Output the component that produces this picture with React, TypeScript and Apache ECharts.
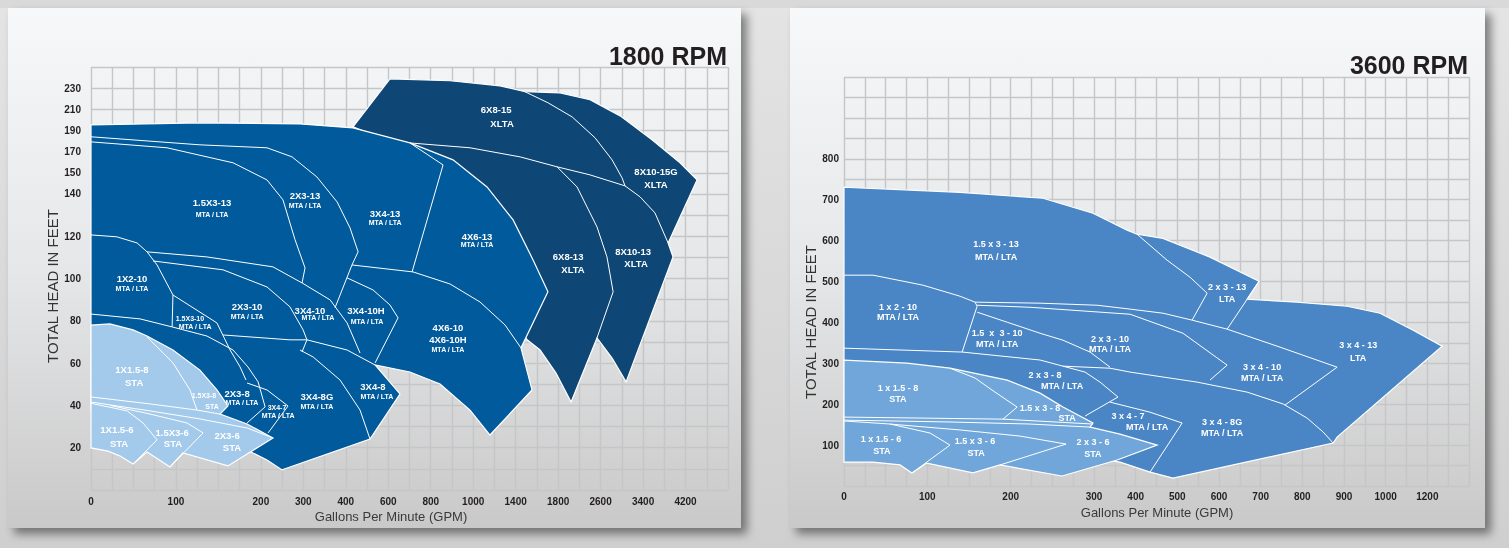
import React, { useEffect, useRef } from "react";
import * as echarts from "echarts";

const FONT = 'Arial, "Liberation Sans", Helvetica, sans-serif';

type Pt = [number, number];
type Tick = [number, string];

// ---------- axis tick labels (grid-cell position -> printed value) ----------
const leftXTicks: Tick[] = [[0, "0"], [4, "100"], [8, "200"], [10, "300"], [12, "400"], [14, "600"], [16, "800"], [18, "1000"], [20, "1400"], [22, "1800"], [24, "2600"], [26, "3400"], [28, "4200"]];
const leftYTicks: Tick[] = [[2, "20"], [4, "40"], [6, "60"], [8, "80"], [10, "100"], [12, "120"], [14, "140"], [15, "150"], [16, "170"], [17, "190"], [18, "210"], [19, "230"]];
const rightXTicks: Tick[] = [[0, "0"], [4, "100"], [8, "200"], [12, "300"], [14, "400"], [16, "500"], [18, "600"], [20, "700"], [22, "800"], [24, "900"], [26, "1000"], [28, "1200"]];
const rightYTicks: Tick[] = [[2, "100"], [4, "200"], [6, "300"], [8, "400"], [10, "500"], [12, "600"], [14, "700"], [16, "800"]];

// ---------- 1800 RPM: coverage areas (axis units) ----------
const leftDarkOutline: Pt[] = [[12.34, 17.17], [14.08, 19.44], [16.91, 19.35], [19.26, 19.11], [20.44, 18.83], [22.09, 18.78], [23.5, 18.45], [24.92, 17.69], [26.42, 16.56], [27.74, 15.47], [28.54, 14.66], [27.18, 11.68], [27.41, 11.02], [25.2, 5.11], [24.54, 6.24], [23.83, 7.19], [22.61, 4.16], [21.9, 5.53], [21.15, 6.62], [20.54, 7.1], [19.26, 8.99], [17.38, 12.77], [15.5, 15.61], [13.85, 16.56]];
const leftDarkLines: Pt[][] = [
  [[20.44, 18.83], [21.52, 18.31], [22.66, 17.64], [23.74, 16.65], [24.54, 15.61], [25.01, 14.76], [25.15, 14.38]],
  [[15.02, 16.41], [17.85, 16.18], [20.21, 15.75], [21.95, 15.28], [23.5, 14.9], [25.15, 14.38]],
  [[25.15, 14.38], [25.86, 13.86], [26.56, 13.1], [27.18, 11.68]],
  [[21.95, 15.28], [22.89, 14.33], [23.83, 12.44], [24.3, 11.02], [24.59, 9.37], [23.83, 7.19]],
];
const leftMediumOutline: Pt[] = [[0, 17.26], [5.13, 17.36], [9.84, 17.31], [12.34, 17.12], [15.02, 16.41], [17.05, 15.61], [18.65, 14.33], [19.88, 12.77], [20.82, 10.88], [21.52, 9.37], [20.25, 6.72], [20.77, 4.73], [18.79, 2.6], [17.85, 3.78], [16.44, 5.01], [15.02, 5.58], [13.38, 5.91], [14.55, 4.54], [13.14, 2.41], [9.0, 0.95], [8.29, 1.42], [7.63, 1.75], [6.55, 2.37], [2.78, 3.31], [0, 3.78]];
const leftMediumLines: Pt[][] = [
  [[0, 16.7], [5.13, 16.32], [8.29, 16.18], [9.47, 15.75], [10.64, 14.8], [11.59, 13.62], [12.2, 12.39], [12.58, 11.26], [12.29, 10.64]],
  [[0, 16.46], [3.58, 16.18], [6.69, 15.47], [8.29, 14.66], [9.04, 13.72], [9.61, 11.83], [10.08, 10.5], [9.94, 9.79]],
  [[2.64, 11.26], [5.46, 11.02], [8.57, 10.55], [9.94, 9.79], [11.26, 8.99], [12.06, 7.9], [12.67, 6.48]],
  [[12.29, 10.64], [11.49, 8.61]],
  [[15.02, 16.41], [16.58, 15.37], [15.12, 10.31]],
  [[12.29, 10.64], [15.17, 10.31], [16.91, 9.74], [18.32, 8.89], [19.5, 7.8], [20.25, 6.72]],
  [[12.06, 10.03], [13.28, 9.46], [14.08, 8.75], [14.46, 8.14], [13.38, 6.01]],
  [[0, 12.06], [1.22, 11.97], [2.17, 11.68], [2.64, 11.26], [3.11, 10.64], [3.86, 9.22], [3.82, 7.71]],
  [[2.92, 10.83], [6.22, 10.41], [8.29, 9.6], [9.37, 8.66], [9.99, 7.57], [10.17, 7.1], [9.94, 6.53]],
  [[3.86, 9.22], [5.93, 7.9], [6.55, 6.62], [7.02, 5.82], [7.3, 5.2]],
  [[0, 8.32], [2.31, 8.09], [3.82, 7.71], [5.46, 7.28], [6.69, 6.62], [7.39, 5.82], [7.87, 5.11], [8.2, 3.93], [7.35, 3.17]],
  [[6.22, 7.33], [9.37, 7.1], [10.17, 7.1], [12.06, 6.62], [13.38, 5.91]],
  [[9.84, 6.62], [10.46, 6.29], [11.73, 5.2], [12.67, 3.78], [13.14, 2.41]],
  [[7.35, 5.06], [8.29, 4.73], [9.28, 3.97], [8.34, 2.7]],
];
const leftLightOutline: Pt[] = [[0, 7.8], [0.89, 7.85], [1.98, 7.57], [2.64, 7.28], [3.86, 6.62], [5.13, 5.67], [5.93, 4.73], [6.45, 3.97], [6.08, 3.59], [7.35, 3.12], [8.57, 2.46], [6.45, 1.14], [4.33, 1.75], [3.72, 1.09], [2.64, 1.8], [1.98, 1.23], [1.37, 1.61], [0.8, 1.84], [0, 1.99]];
const leftLightLines: Pt[][] = [
  [[2.64, 7.24], [3.86, 6.01], [4.66, 4.73], [4.99, 3.78]],
  [[0, 4.4], [2.78, 4.07], [4.99, 3.78], [6.08, 3.59]],
  [[0, 4.16], [2.78, 3.74], [5.13, 3.36], [7.35, 2.93], [8.57, 2.46]],
  [[0, 4.1], [1.7, 3.74], [2.45, 3.17], [3.11, 2.37], [1.98, 1.23]],
  [[0.9, 4.0], [2.78, 3.59], [4.52, 3.17], [5.28, 2.7], [3.72, 1.09]],
];
const leftLabels: [string, number, number, string][] = [
  ["6X8-15", 19.08, 17.97, "m"], ["XLTA", 19.36, 17.31, "m"],
  ["8X10-15G", 26.61, 15.04, "m"], ["XLTA", 26.61, 14.43, "m"],
  ["1.5X3-13", 5.7, 13.58, "m"], ["MTA / LTA", 5.7, 13.01, "s"],
  ["2X3-13", 10.08, 13.91, "m"], ["MTA / LTA", 10.08, 13.43, "s"],
  ["3X4-13", 13.85, 13.06, "m"], ["MTA / LTA", 13.85, 12.63, "s"],
  ["4X6-13", 18.18, 11.97, "m"], ["MTA / LTA", 18.18, 11.59, "s"],
  ["6X8-13", 22.47, 11.02, "m"], ["XLTA", 22.7, 10.41, "m"],
  ["8X10-13", 25.53, 11.26, "m"], ["XLTA", 25.67, 10.69, "m"],
  ["1X2-10", 1.93, 9.98, "m"], ["MTA / LTA", 1.93, 9.51, "s"],
  ["1.5X3-10", 4.66, 8.09, "t"], ["MTA / LTA", 4.9, 7.71, "s"],
  ["2X3-10", 7.35, 8.66, "m"], ["MTA / LTA", 7.35, 8.18, "s"],
  ["3X4-10", 10.31, 8.51, "m"], ["MTA / LTA", 10.69, 8.14, "s"],
  ["3X4-10H", 12.95, 8.47, "m"], ["MTA / LTA", 13.0, 7.99, "s"],
  ["4X6-10", 16.81, 7.66, "m"], ["4X6-10H", 16.81, 7.1, "m"], ["MTA / LTA", 16.81, 6.62, "s"],
  ["1X1.5-8", 1.93, 5.68, "m"], ["STA", 2.03, 5.06, "m"],
  ["1.5X3-8", 5.32, 4.45, "t"], ["STA", 5.7, 3.97, "t"],
  ["2X3-8", 6.88, 4.54, "m"], ["MTA / LTA", 7.11, 4.12, "s"],
  ["3X4-7", 8.76, 3.88, "t"], ["MTA / LTA", 8.81, 3.5, "s"],
  ["3X4-8G", 10.64, 4.4, "m"], ["MTA / LTA", 10.64, 3.97, "s"],
  ["3X4-8", 13.28, 4.87, "m"], ["MTA / LTA", 13.47, 4.4, "s"],
  ["1X1.5-6", 1.22, 2.84, "m"], ["STA", 1.32, 2.22, "m"],
  ["1.5X3-6", 3.82, 2.74, "m"], ["STA", 3.86, 2.18, "m"],
  ["2X3-6", 6.41, 2.6, "m"], ["STA", 6.64, 1.99, "m"],
];

// ---------- 3600 RPM: coverage areas (axis units) ----------
const rightMainOutline: Pt[] = [[0, 14.61], [5.57, 14.36], [9.55, 14.07], [11.95, 13.34], [13.59, 12.51], [14.07, 12.31], [15.31, 12.11], [17.57, 11.19], [19.92, 10.01], [19.35, 9.13], [21.75, 8.99], [24.15, 8.79], [25.73, 8.45], [27.32, 7.62], [28.71, 6.84], [23.67, 2.39], [23.48, 2.1], [15.79, 0.39], [14.69, 0.68], [13.25, 1.17], [10.85, 1.51], [7.49, 2.25], [0, 2.74]];
const rightMainLines: Pt[][] = [
  [[14.07, 12.31], [15.51, 11.04], [16.61, 10.21], [17.43, 9.43], [16.71, 8.11]],
  [[19.92, 10.01], [19.35, 9.13], [18.39, 7.67]],
  [[6.29, 8.99], [9.41, 8.94], [12.15, 8.84], [13.73, 8.65], [15.31, 8.45], [16.71, 8.11], [18.39, 7.67], [20.93, 6.79], [23.67, 5.81]],
  [[6.39, 8.84], [8.93, 8.74], [13.73, 8.4], [16.27, 7.47], [18.39, 5.91], [17.57, 5.18]],
  [[6.39, 8.5], [7.83, 8.01], [9.41, 7.47], [10.51, 7.13], [11.81, 6.55], [12.77, 5.81]],
  [[6.29, 8.99], [6.39, 8.79], [5.67, 6.55]],
  [[0, 6.74], [3.02, 6.64], [5.67, 6.55], [9.41, 6.16], [10.51, 5.86]],
  [[10.51, 5.86], [12.77, 5.76], [13.73, 5.57], [16.95, 5.08], [19.35, 4.59], [21.08, 4.01], [22.23, 3.32], [23.0, 2.64], [23.48, 2.1]],
  [[10.51, 5.86], [11.57, 5.57], [12.29, 5.08], [13.15, 4.35], [11.57, 3.42]],
  [[23.67, 5.81], [21.17, 3.96]],
  [[12.77, 4.1], [14.69, 3.61], [16.23, 3.08], [14.69, 0.68]],
  [[0, 10.31], [1.39, 10.31], [3.79, 9.82], [5.57, 9.28], [6.29, 8.99]],
];
const rightLightOutline: Pt[] = [[0, 6.16], [3.02, 6.01], [5.09, 5.76], [7.83, 5.18], [9.41, 4.54], [10.51, 3.86], [11.95, 3.08], [11.81, 2.88], [13.25, 2.54], [15.03, 2.0], [13.11, 1.27], [10.47, 0.49], [7.49, 1.03], [6.19, 0.64], [3.98, 1.12], [3.26, 0.64], [2.69, 1.03], [1.39, 1.17], [0, 1.17]];
const rightLightLines: Pt[][] = [
  [[5.09, 5.76], [6.29, 5.28], [7.25, 4.59], [8.31, 3.86], [7.63, 3.27]],
  [[0, 3.37], [7.63, 3.27], [11.95, 3.03]],
  [[0, 3.22], [5.09, 3.13], [8.93, 3.03], [11.81, 2.88]],
  [[0, 3.18], [2.21, 3.03], [4.13, 2.59], [5.09, 2.0], [3.26, 0.64]],
  [[2.21, 3.03], [5.57, 2.74], [8.45, 2.44], [10.66, 2.05], [7.49, 1.03]],
];
const rightLabels: [string, number, number][] = [
  ["1.5 x 3 - 13", 7.3, 11.82], ["MTA / LTA", 7.3, 11.19],
  ["2 x 3 - 13", 18.39, 9.72], ["LTA", 18.39, 9.13],
  ["3 x 4 - 13", 24.68, 6.89], ["LTA", 24.68, 6.25],
  ["1 x 2 - 10", 2.59, 8.74], ["MTA / LTA", 2.59, 8.26],
  ["1.5  x  3 - 10", 7.35, 7.47], ["MTA / LTA", 7.35, 6.94],
  ["2 x 3 - 10", 12.77, 7.18], ["MTA / LTA", 12.77, 6.69],
  ["3 x 4 - 10", 20.07, 5.81], ["MTA / LTA", 20.07, 5.28],
  ["2 x 3 - 8", 9.65, 5.42], ["MTA / LTA", 10.47, 4.89],
  ["1 x 1.5 - 8", 2.59, 4.79], ["STA", 2.59, 4.25],
  ["1.5 x 3 - 8", 9.41, 3.81], ["STA", 10.71, 3.32],
  ["3 x 4 - 7", 13.63, 3.42], ["MTA / LTA", 14.55, 2.88],
  ["3 x 4 - 8G", 18.15, 3.13], ["MTA / LTA", 18.15, 2.59],
  ["1 x 1.5 - 6", 1.78, 2.3], ["STA", 1.82, 1.71],
  ["1.5 x 3 - 6", 6.29, 2.2], ["STA", 6.34, 1.61],
  ["2 x 3 - 6", 11.95, 2.15], ["STA", 11.95, 1.56],
];

const COLORS = {
  dark: "#0e4675",
  medium: "#005a9b",
  light: "#a3c9eb",
  rMain: "#4a86c5",
  rLight: "#70a6d9",
};

const LABEL_FONTS: Record<string, string> = {
  m: `bold 9.5px ${FONT}`,
  s: `bold 7px ${FONT}`,
  t: `bold 7px ${FONT}`,
  r: `bold 9px ${FONT}`,
};

function tickFormatter(ticks: Tick[]) {
  const m = new Map<number, string>(ticks);
  return (v: number) => m.get(Math.round(v)) ?? "";
}

function areaSeries(grid: number, outline: Pt[], fill: string, z: number) {
  return {
    type: "custom",
    xAxisIndex: grid,
    yAxisIndex: grid,
    z,
    silent: true,
    data: [[0, 0]],
    renderItem: (_p: any, api: any) => ({
      type: "polygon",
      shape: { points: outline.map((p) => api.coord(p)) },
      style: { fill, stroke: "#ffffff", lineWidth: 1.2 },
    }),
  };
}

function lineSeries(grid: number, lines: Pt[][], z: number) {
  return {
    type: "custom",
    xAxisIndex: grid,
    yAxisIndex: grid,
    z,
    silent: true,
    data: lines.map(() => [0, 0]),
    renderItem: (params: any, api: any) => ({
      type: "polyline",
      shape: { points: lines[params.dataIndex].map((p) => api.coord(p)) },
      style: { fill: "none", stroke: "#ffffff", lineWidth: 1 },
    }),
  };
}

function labelSeries(grid: number, labels: [string, number, number, string][], z: number) {
  return {
    type: "custom",
    xAxisIndex: grid,
    yAxisIndex: grid,
    z,
    silent: true,
    data: labels.map(() => [0, 0]),
    renderItem: (params: any, api: any) => {
      const l = labels[params.dataIndex];
      const [x, y] = api.coord([l[1], l[2]]);
      return {
        type: "text",
        x,
        y,
        style: { text: l[0], fill: "#ffffff", font: LABEL_FONTS[l[3]], align: "center", verticalAlign: "middle" },
      };
    },
  };
}

function axisPair(grid: number, xt: Tick[], yt: Tick[], yMargin: number, xMargin: number) {
  const common = {
    gridIndex: grid,
    type: "value",
    min: 0,
    interval: 1,
    axisLine: { show: false },
    axisTick: { show: false },
    splitLine: { show: true, lineStyle: { color: "#c5c6c8", width: 1.4 } },
  };
  const labelStyle = { fontSize: 10, fontWeight: "bold", color: "#231f20", fontFamily: FONT };
  return {
    x: { ...common, max: 30, axisLabel: { ...labelStyle, margin: xMargin, formatter: tickFormatter(xt) } },
    y: { ...common, max: 20, axisLabel: { ...labelStyle, margin: yMargin, formatter: tickFormatter(yt) } },
  };
}

function buildOption() {
  const a0 = axisPair(0, leftXTicks, leftYTicks, 10, 6);
  const a1 = axisPair(1, rightXTicks, rightYTicks, 5, 5);
  const panelFill = new echarts.graphic.LinearGradient(0, 0, 0, 1, [
    { offset: 0, color: "#f7f8f9" },
    { offset: 0.5, color: "#e6e7e8" },
    { offset: 1, color: "#c9c9ca" },
  ]);
  const bgFill = new echarts.graphic.LinearGradient(0, 0, 0, 1, [
    { offset: 0, color: "#e4e4e4" },
    { offset: 1, color: "#cfcfcf" },
  ]);
  const panelShadow = { shadowBlur: 10, shadowColor: "rgba(0,0,0,0.45)", shadowOffsetX: 6, shadowOffsetY: 6 };
  return {
    animation: false,
    grid: [
      { left: 91, top: 67, width: 637, height: 423 },
      { left: 844, top: 77, width: 625, height: 409 },
    ],
    xAxis: [a0.x, a1.x],
    yAxis: [a0.y, a1.y],
    graphic: [
      { type: "rect", z: -100, silent: true, shape: { x: 0, y: 0, width: 1509, height: 548 }, style: { fill: bgFill } },
      { type: "rect", z: -99, silent: true, shape: { x: 0, y: 0, width: 1509, height: 8 }, style: { fill: "#d9d9d9" } },
      { type: "rect", z: -98, silent: true, shape: { x: 8, y: 8, width: 733, height: 520 }, style: { fill: panelFill, ...panelShadow } },
      { type: "rect", z: -98, silent: true, shape: { x: 790, y: 8, width: 695, height: 520 }, style: { fill: panelFill, ...panelShadow } },
      { type: "text", z: 100, silent: true, x: 727, y: 56, style: { text: "1800 RPM", font: `bold 25px ${FONT}`, fill: "#231f20", align: "right", verticalAlign: "middle" } },
      { type: "text", z: 100, silent: true, x: 1468, y: 64.5, style: { text: "3600 RPM", font: `bold 25px ${FONT}`, fill: "#231f20", align: "right", verticalAlign: "middle" } },
      { type: "text", z: 100, silent: true, x: 52, y: 286, rotation: Math.PI / 2, style: { text: "TOTAL HEAD IN FEET", font: `15px ${FONT}`, fill: "#333333", align: "center", verticalAlign: "middle" } },
      { type: "text", z: 100, silent: true, x: 810, y: 322, rotation: Math.PI / 2, style: { text: "TOTAL HEAD IN FEET", font: `15px ${FONT}`, fill: "#333333", align: "center", verticalAlign: "middle" } },
      { type: "text", z: 100, silent: true, x: 391, y: 516, style: { text: "Gallons Per Minute (GPM)", font: `13px ${FONT}`, fill: "#3a3a3a", align: "center", verticalAlign: "middle" } },
      { type: "text", z: 100, silent: true, x: 1157, y: 512, style: { text: "Gallons Per Minute (GPM)", font: `13px ${FONT}`, fill: "#3a3a3a", align: "center", verticalAlign: "middle" } },
    ],
    series: [
      areaSeries(0, leftDarkOutline, COLORS.dark, 2),
      lineSeries(0, leftDarkLines, 3),
      areaSeries(0, leftMediumOutline, COLORS.medium, 4),
      lineSeries(0, leftMediumLines, 5),
      areaSeries(0, leftLightOutline, COLORS.light, 6),
      lineSeries(0, leftLightLines, 7),
      labelSeries(0, leftLabels, 8),
      areaSeries(1, rightMainOutline, COLORS.rMain, 2),
      lineSeries(1, rightMainLines, 3),
      areaSeries(1, rightLightOutline, COLORS.rLight, 4),
      lineSeries(1, rightLightLines, 5),
      labelSeries(1, rightLabels.map((l) => [l[0], l[1], l[2], "r"] as [string, number, number, string]), 8),
    ],
  };
}

export default function App() {
  const ref = useRef<HTMLDivElement>(null);
  useEffect(() => {
    const chart = echarts.init(ref.current!, null, { renderer: "svg" });
    chart.setOption(buildOption() as any);
    return () => chart.dispose();
  }, []);
  return <div ref={ref} style={{ position: "fixed", left: 0, top: 0, width: 1509, height: 548 }} />;
}
